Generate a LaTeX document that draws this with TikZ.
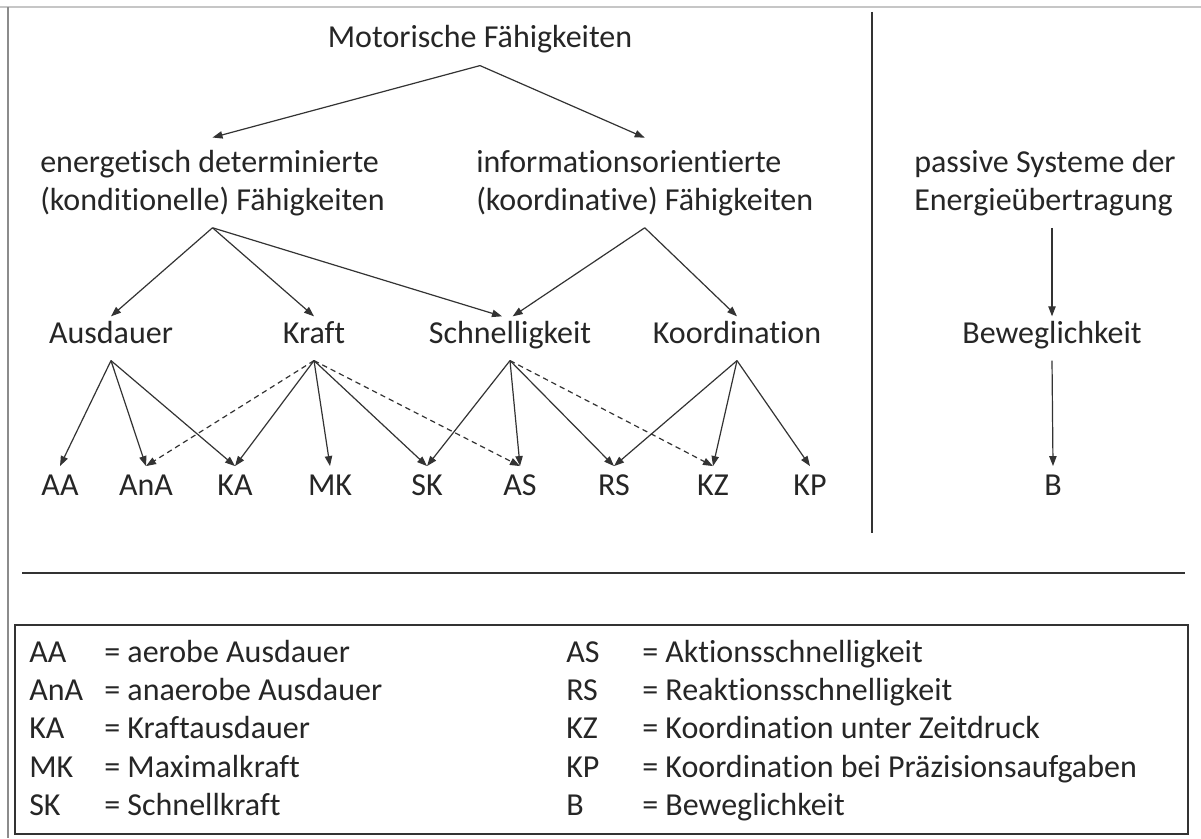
\documentclass[tikz,border=0pt]{standalone}
\usepackage{fontspec}
\setmainfont{Carlito}[Ligatures=NoCommon]
\usetikzlibrary{arrows.meta, positioning}
\definecolor{inkgray}{HTML}{262626}
\definecolor{linegray}{HTML}{333333}
\definecolor{framegray}{HTML}{8C8C8C}
\definecolor{topgray}{HTML}{C6C6C6}

\begin{document}
\begin{tikzpicture}[
  x=0.75pt, y=-0.75pt,
  every node/.style={font=\fontsize{24}{28.5}\selectfont, text=inkgray},
  lbl/.style={anchor=base, text height=0.68em, text depth=0pt, inner xsep=0pt, inner ysep=13pt},
  grp/.style={anchor=base west, align=left, inner xsep=0pt, inner ysep=9pt},
  abbr/.style={anchor=base, text height=0.65em, text depth=0pt, inner xsep=0pt, inner ysep=15pt},
  key/.style={anchor=base west, inner sep=0pt},
  link/.style={-{Triangle[length=7.5pt, width=5.5pt]}, line width=0.9pt, draw=linegray},
  weak/.style={link, dash pattern=on 4pt off 3pt}
]
\useasboundingbox (0,0) rectangle (1201,838);
\fill[white] (0,0) rectangle (1201,838);

\draw[topgray, line width=1.5pt] (0,7) -- (1201,7);
\draw[framegray, line width=1pt] (8,7) -- (8,838);
\draw[linegray, line width=1.1pt] (872,12) -- (872,533);
\draw[linegray, line width=1.1pt] (22,573) -- (1185,573);
\draw[linegray, line width=1.1pt] (15,625) rectangle (1188,834);

\node[lbl] (mot) at (480,48) {Motorische Fähigkeiten};
\node[grp] (energ) at (40,210) {energetisch determinierte\\(konditionelle) Fähigkeiten};
\node[grp] (inform) at (476,210) {informationsorientierte\\(koordinative) Fähigkeiten};
\node[grp] (passiv) at (914,210) {passive Systeme der\\Energieübertragung};

\node[lbl] (ausd) at (111,343) {Ausdauer};
\node[lbl] (kraft) at (314,343) {Kraft};
\node[lbl] (schnell) at (510,343) {Schnelligkeit};
\node[lbl] (koord) at (737,343) {Koordination};
\node[lbl] (bewegl) at (1052,343) {Beweglichkeit};

\node[abbr] (aa) at (60,495) {AA};
\node[abbr] (ana) at (146,495) {AnA};
\node[abbr] (ka) at (235,495) {KA};
\node[abbr] (mk) at (330,495) {MK};
\node[abbr] (sk) at (427,495) {SK};
\node[abbr] (as) at (520,495) {AS};
\node[abbr] (rs) at (614,495) {RS};
\node[abbr] (kz) at (713,495) {KZ};
\node[abbr] (kp) at (810,495) {KP};
\node[abbr] (b) at (1053,495) {B};

\draw[link] (mot.south) -- (energ.north);
\draw[link] (mot.south) -- (inform.north);
\draw[link] (energ.south) -- (ausd.north);
\draw[link] (energ.south) -- (kraft.north);
\draw[link] (energ.south) -- ([xshift=-6pt]schnell.north);
\draw[link] (inform.south) -- ([xshift=2pt]schnell.north);
\draw[link] (inform.south) -- (koord.north);
\draw[link] (passiv.south -| bewegl.north) -- (bewegl.north);
\draw[link] (bewegl.south) -- (b.north);

\draw[link] (ausd.south) -- (aa.north);
\draw[link] (ausd.south) -- (ana.north);
\draw[link] (ausd.south) -- (ka.north);
\draw[weak] (kraft.south) -- (ana.north);
\draw[link] (kraft.south) -- (ka.north);
\draw[link] (kraft.south) -- (mk.north);
\draw[link] (kraft.south) -- (sk.north);
\draw[weak] (kraft.south) -- (as.north);
\draw[link] (schnell.south) -- (sk.north);
\draw[link] (schnell.south) -- (as.north);
\draw[link] (schnell.south) -- (rs.north);
\draw[weak] (schnell.south) -- (kz.north);
\draw[link] (koord.south) -- (rs.north);
\draw[link] (koord.south) -- (kz.north);
\draw[link] (koord.south) -- (kp.north);

\node[key] (k1) at (29,662) {AA};
\node[key] (d1) at (104,662) {= aerobe Ausdauer};
\node[key] (k2) at (29,700) {AnA};
\node[key] (d2) at (104,700) {= anaerobe Ausdauer};
\node[key] (k3) at (29,738) {KA};
\node[key] (d3) at (104,738) {= Kraftausdauer};
\node[key] (k4) at (29,777) {MK};
\node[key] (d4) at (104,777) {= Maximalkraft};
\node[key] (k5) at (29,815) {SK};
\node[key] (d5) at (104,815) {= Schnellkraft};
\node[key] (k6) at (566,662) {AS};
\node[key] (d6) at (642,662) {= Aktionsschnelligkeit};
\node[key] (k7) at (566,700) {RS};
\node[key] (d7) at (642,700) {= Reaktionsschnelligkeit};
\node[key] (k8) at (566,738) {KZ};
\node[key] (d8) at (642,738) {= Koordination unter Zeitdruck};
\node[key] (k9) at (566,777) {KP};
\node[key] (d9) at (642,777) {= Koordination bei Präzisionsaufgaben};
\node[key] (k10) at (566,815) {B};
\node[key] (d10) at (642,815) {= Beweglichkeit};
\end{tikzpicture}
\end{document}
